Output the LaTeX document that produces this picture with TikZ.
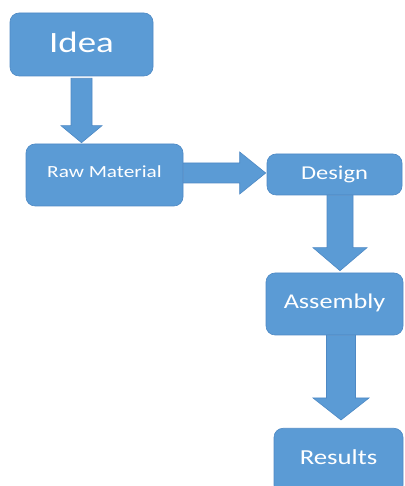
\documentclass[tikz,border=0pt]{standalone}
\usepackage{fontspec}
\setmainfont{Carlito}[FakeStretch=1.25]
\usepackage{tikz}
\usetikzlibrary{calc,positioning}

\definecolor{boxblue}{HTML}{5B9BD5}
\definecolor{boxedge}{HTML}{4E89C4}

\tikzset{
  box/.style={rounded corners=9pt, fill=boxblue, draw=boxedge, line width=.6pt,
    text=white, inner sep=0pt},
  blockarrow/.style={fill=boxblue, draw=boxedge, line width=.6pt},
}

% fat arrow from #1 to #2: half shaft width #3, half head width #4, head length #5
\newcommand\fatarrow[5]{%
  \coordinate (fa-s) at #1;
  \coordinate (fa-e) at #2;
  \coordinate (fa-h) at ($(fa-e)!#5!(fa-s)$);
  \draw[blockarrow] ($(fa-s)!#3!90:(fa-e)$) -- ($(fa-h)!#3!90:(fa-e)$)
    -- ($(fa-h)!#4!90:(fa-e)$) -- (fa-e) -- ($(fa-h)!#4!-90:(fa-e)$)
    -- ($(fa-h)!#3!-90:(fa-e)$) -- ($(fa-s)!#3!-90:(fa-e)$) -- cycle;
}

\begin{document}
\begin{tikzpicture}[x=1pt,y=1pt]
\useasboundingbox (0,0) rectangle (404,486);

\node[box, minimum width=143pt, minimum height=63pt, text depth=4pt] (idea) at (81.5,441.5)
  {\fontsize{29.5}{30}\selectfont Idea};
\node[box, minimum width=157pt, minimum height=62pt, text depth=6pt] (raw) at (104.5,311)
  {\fontsize{17}{18}\selectfont Raw Material};
\node[box, minimum width=135pt, minimum height=41pt] (design) at (334.5,311.5)
  {\fontsize{19.6}{20}\selectfont Design};
\node[box, minimum width=137pt, minimum height=62pt, text depth=6.5pt] (assembly) at (334.5,182)
  {\fontsize{21}{22}\selectfont Assembly};
% bottom of this one runs off the page
\node[box, minimum width=129pt, text height=36pt, text depth=30pt, anchor=north] (results) at (338.5,58)
  {\fontsize{21.4}{22}\selectfont Results};

\fatarrow{($(idea.south)+(0,-2)$)}{($(idea.south |- raw.north)+(0,1)$)}{10.5pt}{20.5pt}{17pt}
\fatarrow{($(raw.east)+(0,2)$)}{($(raw.east -| design.west)+(-1,2)$)}{10pt}{21pt}{26pt}
\fatarrow{($(design.south)+(5.5,0)$)}{($(design.south |- assembly.north)+(5.5,2)$)}{13pt}{27pt}{23pt}
\fatarrow{($(assembly.south)+(6.5,0)$)}{($(assembly.south |- results.north)+(6.5,8)$)}{14.5pt}{28pt}{22pt}
\end{tikzpicture}
\end{document}
